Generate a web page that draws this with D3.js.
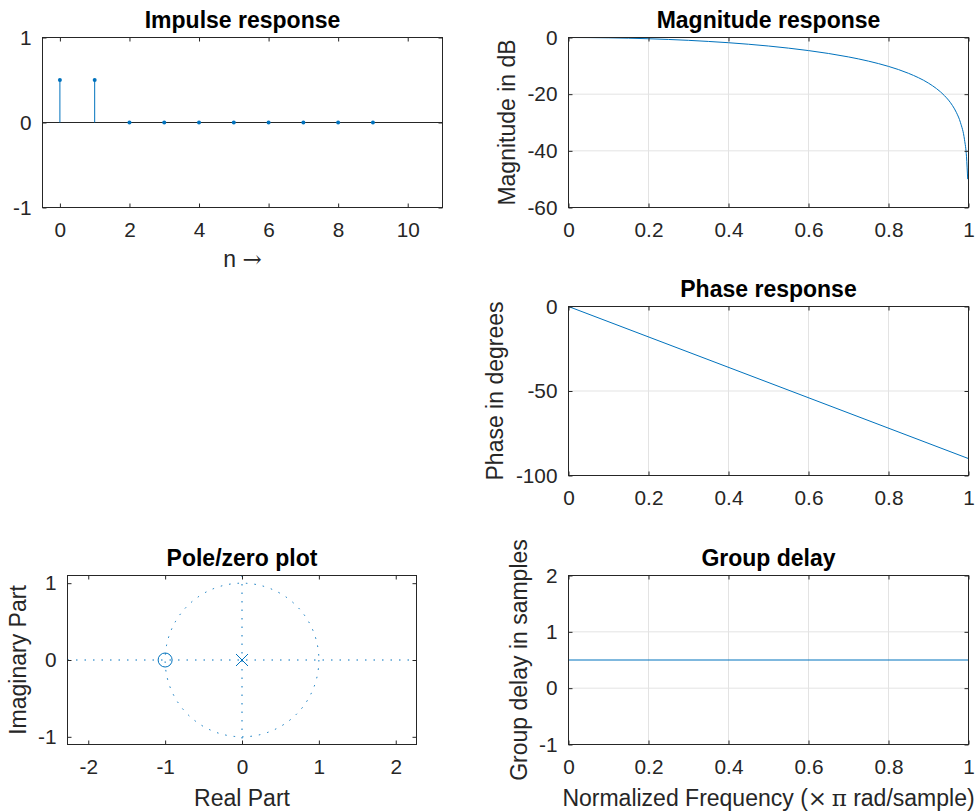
<!DOCTYPE html>
<html>
<head>
<meta charset="utf-8">
<script src="https://cdn.jsdelivr.net/npm/d3@7"></script>
<style>
  body { margin: 0; background: #fff; }
  svg text { font-family: "Liberation Sans", Arial, Helvetica, sans-serif; fill: #262626; }
  .tick text { font-size: 20.8px; }
  .title { font-size: 23px; font-weight: bold; fill: #000; }
  .label { font-size: 23px; }
  .sym { font-family: "DejaVu Serif", serif; }
</style>
</head>
<body>
<svg id="Vis" width="975" height="811"></svg>
<script>
/*
* DATA
*/

// impulse response h[n]
const impulseN = [0, 1, 2, 3, 4, 5, 6, 7, 8, 9];
const impulseH = [0.5, 0.5, 0, 0, 0, 0, 0, 0, 0, 0];

// magnitude response
const magFreq = [0, 0.05, 0.1, 0.15, 0.2, 0.25, 0.3, 0.35, 0.4, 0.45, 0.5, 0.55, 0.6, 0.65,
  0.7, 0.75, 0.8, 0.85, 0.9, 0.92, 0.94, 0.96, 0.97, 0.98, 0.99, 0.995, 0.998];
const magDb = [0, -0.03, -0.11, -0.24, -0.44, -0.69, -1.0, -1.39, -1.84, -2.38, -3.01, -3.75, -4.62, -5.64,
  -6.86, -8.34, -10.2, -12.64, -16.11, -18.04, -20.53, -24.04, -26.54, -30.06, -36.08, -42.1, -50.0];

// phase response
const phaseFreq = [0, 1];
const phaseDeg = [0, -90];

// group delay
const gdFreq = [0, 1];
const gdSamples = [0.5, 0.5];

// poles and zeros
const zerosRe = [-1];
const zerosIm = [0];
const polesRe = [0];
const polesIm = [0];

// tick values
const impulseXTicks = [0, 2, 4, 6, 8, 10];
const impulseYTicks = [-1, 0, 1];
const freqTicks = [0, 0.2, 0.4, 0.6, 0.8, 1];
const magTicks = [-60, -40, -20, 0];
const phaseTicks = [-100, -50, 0];
const gdTicks = [-1, 0, 1, 2];
const pzXTicks = [-2, -1, 0, 1, 2];
const pzYTicks = [-1, 0, 1];


/*
* SETUP
*/

const svg = d3.select("svg#Vis");
const blue = "#0072BD";
const axisColor = "#262626";
const gridColor = "#e3e3e3";
const fmt = d => String(d);

/* draw one MATLAB style axes box, returns scales and a group */
function makeAxes(box, xDom, yDom, xTicks, yTicks, opts) {
  const x = d3.scaleLinear().domain(xDom).range([box.x0, box.x1]);
  const y = d3.scaleLinear().domain(yDom).range([box.y1, box.y0]);
  const g = svg.append("g");

  if (opts.grid) {
    g.append("g").selectAll("line.vgrid").data(xTicks).join("line")
      .attr("x1", d => x(d)).attr("x2", d => x(d))
      .attr("y1", box.y0).attr("y2", box.y1)
      .attr("stroke", gridColor);
    g.append("g").selectAll("line.hgrid").data(yTicks).join("line")
      .attr("x1", box.x0).attr("x2", box.x1)
      .attr("y1", d => y(d)).attr("y2", d => y(d))
      .attr("stroke", gridColor);
  }

  const plot = g.append("g");

  const ax = (axis, t) => g.append("g").attr("transform", t).call(axis)
    .call(s => s.select(".domain").remove())
    .call(s => s.selectAll(".tick line").attr("stroke", axisColor));

  ax(d3.axisBottom(x).tickValues(xTicks).tickFormat(fmt).tickSizeInner(-4).tickSizeOuter(0).tickPadding(15),
    translate(0, box.y1));
  ax(d3.axisTop(x).tickValues(xTicks).tickFormat("").tickSizeInner(-4).tickSizeOuter(0),
    translate(0, box.y0));
  ax(d3.axisLeft(y).tickValues(yTicks).tickFormat(fmt).tickSizeInner(-4).tickSizeOuter(0).tickPadding(11),
    translate(box.x0, 0));
  ax(d3.axisRight(y).tickValues(yTicks).tickFormat("").tickSizeInner(-4).tickSizeOuter(0),
    translate(box.x1, 0));

  g.selectAll(".tick text").attr("fill", axisColor);
  g.selectAll("g").attr("font-family", null).attr("font-size", null);

  g.append("rect")
    .attr("x", box.x0).attr("y", box.y0)
    .attr("width", box.x1 - box.x0).attr("height", box.y1 - box.y0)
    .attr("fill", "none").attr("stroke", axisColor);

  g.append("text").attr("class", "title")
    .attr("x", (box.x0 + box.x1) / 2).attr("y", box.y0 - 10)
    .attr("text-anchor", "middle").text(opts.title);

  if (opts.xlabel) {
    const t = g.append("text").attr("class", "label")
      .attr("x", (box.x0 + box.x1) / 2).attr("y", opts.xlabelY)
      .attr("text-anchor", "middle");
    // pieces: [text, isSymbol]
    opts.xlabel.forEach(p => {
      t.append("tspan").attr("class", p[1] ? "sym" : null).text(p[0]);
    });
  }
  if (opts.ylabel) {
    g.append("text").attr("class", "label")
      .attr("transform", translate(opts.ylabelX, (box.y0 + box.y1) / 2) + " rotate(-90)")
      .attr("text-anchor", "middle").text(opts.ylabel);
  }
  return { x, y, plot };
}


/*
* IMPULSE RESPONSE
*/

const imp = makeAxes({ x0: 42.5, x1: 442.5, y0: 37.5, y1: 207.5 }, [-0.5, 11], [-1, 1],
  impulseXTicks, impulseYTicks,
  { title: "Impulse response", xlabel: [["n ", false], ["\u2192", true]], xlabelY: 267 });

imp.plot.append("line")
  .attr("x1", imp.x(-0.5)).attr("x2", imp.x(11))
  .attr("y1", imp.y(0)).attr("y2", imp.y(0))
  .attr("stroke", axisColor);

imp.plot.selectAll("line.stem").data(impulseN).join("line")
  .attr("x1", d => imp.x(d)).attr("x2", d => imp.x(d))
  .attr("y1", imp.y(0)).attr("y2", (d, i) => imp.y(impulseH[i]))
  .attr("stroke", blue);

imp.plot.selectAll("circle").data(impulseN).join("circle")
  .attr("cx", d => imp.x(d)).attr("cy", (d, i) => imp.y(impulseH[i]))
  .attr("r", 2).attr("fill", blue);


/*
* MAGNITUDE RESPONSE
*/

const mag = makeAxes({ x0: 568.5, x1: 968.5, y0: 37.5, y1: 207.5 }, [0, 1], [-60, 0],
  freqTicks, magTicks,
  { title: "Magnitude response", grid: true, ylabel: "Magnitude in dB", ylabelX: 515 });

mag.plot.append("path")
  .datum(magFreq.map((f, i) => [f, magDb[i]]))
  .attr("fill", "none").attr("stroke", blue)
  .attr("d", d3.line().x(d => mag.x(d[0])).y(d => mag.y(d[1])).curve(d3.curveMonotoneX));


/*
* PHASE RESPONSE
*/

const ph = makeAxes({ x0: 568.5, x1: 968.5, y0: 306.5, y1: 475.5 }, [0, 1], [-100, 0],
  freqTicks, phaseTicks,
  { title: "Phase response", grid: true, ylabel: "Phase in degrees", ylabelX: 503 });

ph.plot.append("path")
  .datum(phaseFreq.map((f, i) => [f, phaseDeg[i]]))
  .attr("fill", "none").attr("stroke", blue)
  .attr("d", d3.line().x(d => ph.x(d[0])).y(d => ph.y(d[1])));


/*
* POLE / ZERO PLOT
*/

const pz = makeAxes({ x0: 67.5, x1: 416.5, y0: 575.5, y1: 744.5 }, [-2.27, 2.27], [-1.1, 1.1],
  pzXTicks, pzYTicks,
  { title: "Pole/zero plot", xlabel: [["Real Part", false]], xlabelY: 806,
    ylabel: "Imaginary Part", ylabelX: 26 });

const dots = "1.5,7";
pz.plot.append("line")
  .attr("x1", pz.x(-2.27)).attr("x2", pz.x(2.27))
  .attr("y1", pz.y(0)).attr("y2", pz.y(0))
  .attr("stroke", blue).attr("stroke-dasharray", dots);
pz.plot.append("line")
  .attr("x1", pz.x(0)).attr("x2", pz.x(0))
  .attr("y1", pz.y(1.1)).attr("y2", pz.y(-1.1))
  .attr("stroke", blue).attr("stroke-dasharray", dots);
pz.plot.append("ellipse")
  .attr("cx", pz.x(0)).attr("cy", pz.y(0))
  .attr("rx", pz.x(1) - pz.x(0)).attr("ry", pz.y(0) - pz.y(1))
  .attr("fill", "none").attr("stroke", blue).attr("stroke-dasharray", dots);

pz.plot.selectAll("circle.zero").data(zerosRe).join("circle")
  .attr("cx", d => pz.x(d)).attr("cy", (d, i) => pz.y(zerosIm[i]))
  .attr("r", 7).attr("fill", "none").attr("stroke", blue);

pz.plot.selectAll("path.pole").data(polesRe).join("path")
  .attr("transform", (d, i) => translate(pz.x(d), pz.y(polesIm[i])))
  .attr("d", "M-6,-6L6,6M-6,6L6,-6")
  .attr("stroke", blue);


/*
* GROUP DELAY
*/

const gd = makeAxes({ x0: 568.5, x1: 968.5, y0: 575.5, y1: 744.5 }, [0, 1], [-1, 2],
  freqTicks, gdTicks,
  { title: "Group delay", grid: true, ylabel: "Group delay in samples", ylabelX: 527,
    xlabel: [["Normalized Frequency (", false], ["\u00d7\u2009\u03c0", true], [" rad/sample)", false]],
    xlabelY: 806 });

gd.plot.append("path")
  .datum(gdFreq.map((f, i) => [f, gdSamples[i]]))
  .attr("fill", "none").attr("stroke", blue)
  .attr("d", d3.line().x(d => gd.x(d[0])).y(d => gd.y(d[1])));


/*
* HELPER FUNCTIONS
*/

function translate(x, y) {
  return 'translate(' + String(x) + ',' + String(y) + ')';
}
</script>
</body>
</html>
